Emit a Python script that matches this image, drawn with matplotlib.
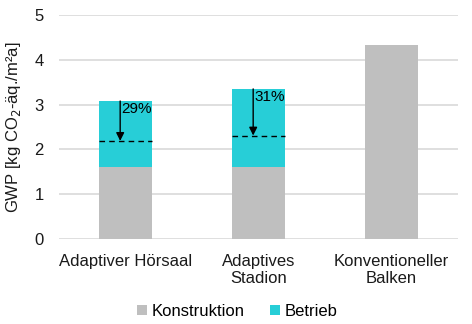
import matplotlib.pyplot as plt
import numpy as np

plt.rcParams['font.family'] = ['Liberation Sans', 'DejaVu Sans']

categories = ["Adaptiver Hörsaal", "Adaptives\nStadion", "Konventioneller\nBalken"]
konstruktion = [1.61, 1.61, 4.33]
betrieb = [1.47, 1.74, 0.0]
reduced = [2.19, 2.31, None]
reduction_labels = ["29%", "31%", None]

gray = "#BFBFBF"
cyan = "#27CED7"

fig = plt.figure(figsize=(4.72, 3.24), dpi=100)
ax = fig.add_axes([59 / 472, 1 - 239 / 324, 399 / 472, 224 / 324])

x = np.arange(len(categories))
w = 0.4
ax.bar(x, konstruktion, w, color=gray, label="Konstruktion", zorder=2)
ax.bar(x, betrieb, w, bottom=konstruktion, color=cyan, label="Betrieb", zorder=2)

for i in range(len(categories)):
    if reduced[i] is None:
        continue
    top = konstruktion[i] + betrieb[i]
    ax.plot([x[i] - w / 2, x[i] + w / 2], [reduced[i], reduced[i]],
            color="black", linestyle=(0, (4, 3)), linewidth=1, zorder=3)
    xa = x[i] - 0.04
    ax.annotate("", xy=(xa, reduced[i]), xytext=(xa, top),
                arrowprops=dict(arrowstyle="-|>", color="black", lw=1,
                                mutation_scale=12, shrinkA=0, shrinkB=0),
                zorder=4)
    ax.text(xa + 0.01, top - 0.03, reduction_labels[i], ha="left", va="top",
            fontsize=11, zorder=5)

ax.set_xlim(-0.5, 2.5)
ax.set_ylim(0, 5)
ax.set_yticks([0, 1, 2, 3, 4, 5])
ax.set_xticks(x)
ax.set_xticklabels(categories, fontsize=12, color="#1a1a1a", linespacing=1.15)
ax.tick_params(axis="y", labelsize=12, colors="#1a1a1a", length=0, pad=11)
ax.tick_params(axis="x", length=0, pad=11)
ax.grid(axis="y", color="#D9D9D9", linewidth=1.2, zorder=0)
for s in ax.spines.values():
    s.set_visible(False)
ax.set_ylabel("GWP [kg CO$_2$-äq./m²a]", fontsize=12, color="#1a1a1a", labelpad=8)

fig.legend(loc="lower center", bbox_to_anchor=(0.502, -0.03), ncol=2, frameon=False,
           fontsize=12, handlelength=0.6, handleheight=0.6, handletextpad=0.3,
           columnspacing=1.5)

fig.savefig("out.png", dpi=100)
